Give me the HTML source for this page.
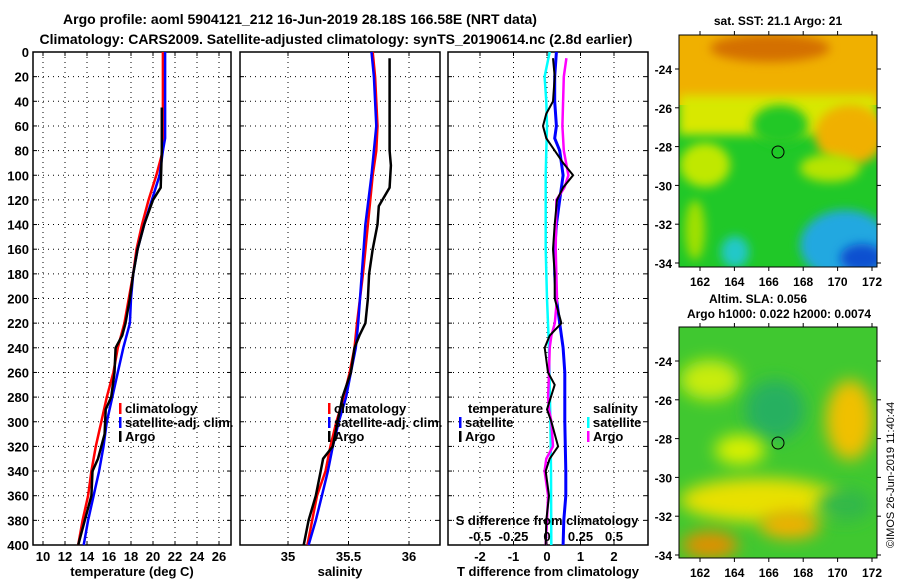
<!DOCTYPE html>
<html><head><meta charset="utf-8"><style>
body{margin:0;background:#fff}
svg{display:block;font-family:"Liberation Sans",sans-serif;font-weight:bold}
</style></head><body>
<svg id="c" width="900" height="580" viewBox="0 0 900 580">
<defs>
<filter id="bl" x="-50%" y="-50%" width="200%" height="200%"><feGaussianBlur stdDeviation="8"/></filter>
<filter id="bl2" x="-50%" y="-50%" width="200%" height="200%"><feGaussianBlur stdDeviation="5"/></filter>
<clipPath id="m1"><rect x="679" y="35" width="198" height="232"/></clipPath>
<clipPath id="m2"><rect x="679" y="327" width="198" height="231"/></clipPath>
</defs>
<text x="300" y="24" font-size="14" text-anchor="middle">Argo profile: aoml 5904121_212 16-Jun-2019 28.18S 166.58E (NRT data)</text>
<text x="336" y="44" font-size="14" text-anchor="middle">Climatology: CARS2009. Satellite-adjusted climatology: synTS_20190614.nc (2.8d earlier)</text>
<g id="maps">
<text x="778" y="25" font-size="12" text-anchor="middle">sat. SST: 21.1 Argo: 21</text>
<g clip-path="url(#m1)">
<rect x="679" y="35" width="198" height="232" fill="#20c828"/>
<rect x="679" y="35" width="198" height="70" fill="#f0b000"/>
<rect x="679" y="95" width="198" height="40" fill="#d8e800" filter="url(#bl2)"/>
<ellipse cx="780" cy="125" rx="28" ry="20" fill="#20c828" filter="url(#bl2)"/>
<ellipse cx="705" cy="165" rx="25" ry="22" fill="#c0e800" filter="url(#bl2)"/>
<ellipse cx="695" cy="230" rx="10" ry="30" fill="#a0e000" filter="url(#bl2)"/>
<ellipse cx="850" cy="135" rx="35" ry="30" fill="#f0b000" filter="url(#bl2)"/>
<ellipse cx="830" cy="168" rx="30" ry="14" fill="#b8e400" filter="url(#bl2)"/>
<ellipse cx="770" cy="48" rx="60" ry="14" fill="#d47000" filter="url(#bl2)"/>
<ellipse cx="845" cy="245" rx="45" ry="35" fill="#20a8e0" filter="url(#bl2)"/>
<ellipse cx="862" cy="258" rx="22" ry="14" fill="#1050d0" filter="url(#bl2)"/>
<ellipse cx="735" cy="252" rx="14" ry="16" fill="#20c8c8" filter="url(#bl2)"/>
<circle cx="778" cy="152" r="6" fill="none" stroke="#000"/>
</g>
<rect x="679" y="35" width="198" height="232" fill="none" stroke="#000"/>
<text x="758" y="303" font-size="12" text-anchor="middle">Altim. SLA: 0.056</text>
<text x="779" y="318" font-size="12" text-anchor="middle">Argo h1000: 0.022 h2000: 0.0074</text>
<g clip-path="url(#m2)">
<rect x="679" y="327" width="198" height="231" fill="#40c830"/>
<ellipse cx="710" cy="380" rx="30" ry="20" fill="#c8ec10" filter="url(#bl)"/>
<ellipse cx="850" cy="420" rx="24" ry="40" fill="#f0c000" filter="url(#bl)"/>
<ellipse cx="775" cy="410" rx="30" ry="30" fill="#28b060" filter="url(#bl)"/>
<ellipse cx="760" cy="500" rx="80" ry="22" fill="#e8e000" filter="url(#bl)"/>
<ellipse cx="790" cy="525" rx="30" ry="14" fill="#f0b000" filter="url(#bl)"/>
<ellipse cx="710" cy="545" rx="28" ry="14" fill="#e09000" filter="url(#bl)"/>
<ellipse cx="740" cy="450" rx="25" ry="15" fill="#d8f000" filter="url(#bl)"/>
<ellipse cx="845" cy="505" rx="28" ry="16" fill="#30b848" filter="url(#bl)"/>
<circle cx="778" cy="443" r="6" fill="none" stroke="#000"/>
</g>
<rect x="679" y="327" width="198" height="231" fill="none" stroke="#000"/>
<text transform="translate(894,548) rotate(-90)" font-size="11" font-weight="normal">©IMOS 26-Jun-2019 11:40:44</text>
</g>
</svg>
<script>
// Panel 1: temperature
const tDepClim=[0,80,100,120,140,160,180,200,220,240,260,280,300,320,340,360,380,400];
const tClim=[20.9,20.9,20.3,19.6,19.0,18.5,18.2,17.8,17.4,16.8,16.4,15.8,15.3,14.8,14.4,14.1,13.6,13.2];
const tDepSat=[0,70,80,100,120,140,160,180,200,220,240,260,280,300,320,340,360,380,400];
const tSat=[21.1,21.1,20.9,20.6,19.9,19.2,18.6,18.2,18.0,17.9,17.3,16.8,16.3,15.8,15.5,15.1,14.6,14.1,13.7];
const tDepArgo=[45,80,110,120,140,160,180,200,220,230,240,260,280,290,310,330,340,360,380,400];
const tArgo=[20.8,20.8,20.7,20.0,19.2,18.6,18.2,17.9,17.5,17.2,16.6,16.5,16.2,15.7,15.6,15.0,14.5,14.4,13.8,13.2];
const tTicks=[10,12,14,16,18,20,22,24,26];
// Panel 2: salinity
const sDepClim=[0,20,60,80,100,140,180,220,240,260,280,300,320,340,360,380,400];
const sClim=[35.70,35.72,35.74,35.73,35.70,35.66,35.62,35.57,35.55,35.51,35.46,35.40,35.35,35.31,35.24,35.20,35.16];
const sDepSat=[0,20,60,100,140,180,220,240,260,280,300,320,340,360,380,400];
const sSat=[35.69,35.71,35.73,35.69,35.64,35.61,35.58,35.56,35.52,35.48,35.42,35.37,35.33,35.28,35.23,35.17];
const sDepArgo=[5,80,92,110,125,140,160,180,200,220,230,240,260,280,300,320,330,340,360,380,400];
const sArgo=[35.84,35.84,35.85,35.84,35.75,35.74,35.70,35.67,35.66,35.64,35.59,35.55,35.52,35.45,35.41,35.37,35.29,35.27,35.23,35.17,35.13];
const sTicks=[35,35.5,36];
// Panel 3: differences
const dDepTSat=[0,20,40,60,70,80,100,120,140,160,180,200,220,240,260,300,340,360,380,400];
const dTSat=[0.28,0.23,0.23,0.28,0.23,0.38,0.48,0.38,0.28,0.23,0.23,0.28,0.38,0.48,0.53,0.53,0.56,0.56,0.50,0.48];
const dDepTArgo=[5,20,40,50,60,70,80,90,100,110,120,140,160,180,200,220,230,240,260,270,290,300,320,330,340,360,380,400];
const dTArgo=[0.18,0.23,0.18,-0.02,-0.12,-0.02,0.23,0.48,0.78,0.48,0.30,0.23,0.18,0.23,0.23,0.43,0.08,-0.07,0.03,0.23,0,0.13,0.33,0.08,-0.04,0.06,-0.02,-0.04];
const dDepSSat=[0,20,40,60,80,100,160,200,240,300,340,400];
const dSSat=[0.02,-0.018,-0.005,0,-0.005,-0.01,-0.01,0,0.015,0.025,0.03,0.032];
const dDepSArgo=[5,20,60,80,100,110,120,160,200,220,230,240,260,280,290,300,320,330,340,360,380,400];
const dSArgo=[0.145,0.125,0.115,0.125,0.16,0.13,0.07,0.065,0.075,0.058,0.033,0.02,0.015,0.008,0.015,0.033,0.045,-0.005,-0.018,0.008,0,-0.01];
const dTTicks=[-2,-1,0,1,2];
const dSTicks=[-0.5,-0.25,0,0.25,0.5];
const depthTicks=[0,20,40,60,80,100,120,140,160,180,200,220,240,260,280,300,320,340,360,380,400];

const svg=document.getElementById('c');
const NS='http://www.w3.org/2000/svg';
function mk(tag,attrs,parent){const e=document.createElementNS(NS,tag);for(const k in attrs)e.setAttribute(k,attrs[k]);(parent||svg).appendChild(e);return e;}
const Y0=52,Y1=545;
const yS=d=>Y0+(d/400)*(Y1-Y0);
function lin(d0,d1,p0,p1){return v=>p0+(v-d0)*(p1-p0)/(d1-d0);}

const panels=[
 {name:'temperature-panel',x0:33,x1:231,xs:lin(10,26,43,219),ticks:tTicks,lab:'temperature (deg C)'},
 {name:'salinity-panel',x0:240,x1:440,xs:lin(35,36,288,409),ticks:sTicks,lab:'salinity'},
 {name:'difference-panel',x0:448,x1:648,xs:lin(0,2,547,614),ticks:dTTicks,lab:'T difference from climatology'}
];
panels.forEach((p,i)=>{
 const g=mk('g',{});
 
 
 p.g=g;
 depthTicks.forEach(d=>{
  if(d>0&&d<400){const l=mk('line',{x1:p.x0,x2:p.x1,y1:yS(d),y2:yS(d),stroke:'#000','stroke-dasharray':'1,4'},g);
   }
  mk('line',{x1:p.x0,x2:p.x0+4,y1:yS(d),y2:yS(d),stroke:'#000'},g);
  mk('line',{x1:p.x1,x2:p.x1-4,y1:yS(d),y2:yS(d),stroke:'#000'},g);
  if(i===0){const t=mk('text',{x:29,y:yS(d)+5,'font-size':13,'text-anchor':'end'},g);t.textContent=d;
   }
 });
 p.ticks.forEach(v=>{
  const x=p.xs(v);
  const l=mk('line',{x1:x,x2:x,y1:Y0,y2:Y1,stroke:'#000','stroke-dasharray':'1,4'},g);
  
  mk('line',{x1:x,x2:x,y1:Y1,y2:Y1-4,stroke:'#000'},g);
  mk('line',{x1:x,x2:x,y1:Y0,y2:Y0+4,stroke:'#000'},g);
  const t=mk('text',{x:x,y:Y1+16,'font-size':13,'text-anchor':'middle'},g);t.textContent=v;
  
 });
 const fr=mk('rect',{x:p.x0,y:Y0,width:p.x1-p.x0,height:Y1-Y0,fill:'none',stroke:'#000','stroke-width':1.5},g);
 
 const t=mk('text',{x:(p.x0+p.x1)/2,y:576,'font-size':13,'text-anchor':'middle'},g);t.textContent=p.lab;
 
});
function series(p,deps,vals,col,name,w){
 const pts=deps.map((d,i)=>p.xs(vals[i]).toFixed(1)+','+yS(d).toFixed(1)).join(' ');
 const l=mk('polyline',{points:pts,fill:'none',stroke:col,'stroke-width':w||2.5},p.g);
 
}
const P=panels;
series(P[0],tDepClim,tClim,'#f00','temp-climatology-line');
series(P[0],tDepSat,tSat,'#00f','temp-satellite-line');
series(P[0],tDepArgo,tArgo,'#000','temp-argo-line');
series(P[1],sDepClim,sClim,'#f00','sal-climatology-line');
series(P[1],sDepSat,sSat,'#00f','sal-satellite-line');
series(P[1],sDepArgo,sArgo,'#000','sal-argo-line');
const sAsT=v=>v*4;
series(P[2],dDepSSat,dSSat.map(sAsT),'#0ff','sdiff-satellite-line');
series(P[2],dDepTSat,dTSat,'#00f','tdiff-satellite-line',3);
series(P[2],dDepSArgo,dSArgo.map(sAsT),'#f0f','sdiff-argo-line');
series(P[2],dDepTArgo,dTArgo,'#000','tdiff-argo-line',2);
dSTicks.forEach(v=>{
 const t=mk('text',{x:P[2].xs(v*4),y:541,'font-size':13,'text-anchor':'middle'},P[2].g);t.textContent=v;
 
});
{const t=mk('text',{x:547,y:525,'font-size':13,'text-anchor':'middle'},P[2].g);t.textContent='S difference from climatology';
 }
function legend(g,x,y,col,txt){
 mk('rect',{x:x,y:y-10,width:2.5,height:11,fill:col},g);
 const t=mk('text',{x:x+6,y:y,'font-size':13},g);t.textContent=txt;
 
}
[[0,119],[1,328]].forEach(([i,x])=>{
 legend(P[i].g,x,413,'#f00','climatology');
 legend(P[i].g,x,427,'#00f','satellite-adj. clim.');
 legend(P[i].g,x,441,'#000','Argo');
});
{const t=mk('text',{x:468,y:413,'font-size':13},P[2].g);t.textContent='temperature';
 }
legend(P[2].g,459,427,'#00f','satellite');
legend(P[2].g,459,441,'#000','Argo');
{const t=mk('text',{x:593,y:413,'font-size':13},P[2].g);t.textContent='salinity';
 }
legend(P[2].g,587,427,'#0ff','satellite');
legend(P[2].g,587,441,'#f0f','Argo');
// map axes
const mapLon=lin(162,172,700,872);
const lonTicks=[162,164,166,168,170,172];
const latTicks=[-24,-26,-28,-30,-32,-34];
[[lin(-24,-34,69,263),35,267],[lin(-24,-34,361,555),327,558]].forEach(([ly,top,bot])=>{
 lonTicks.forEach(v=>{
  const x=mapLon(v);
  mk('line',{x1:x,x2:x,y1:bot,y2:bot+4,stroke:'#000'});
  mk('line',{x1:x,x2:x,y1:top,y2:top-4,stroke:'#000'});
  const t=mk('text',{x:x,y:bot+19,'font-size':12,'text-anchor':'middle'});t.textContent=v;
  
 });
 latTicks.forEach(v=>{
  const y=ly(v);
  mk('line',{x1:675,x2:679,y1:y,y2:y,stroke:'#000'});
  mk('line',{x1:877,x2:881,y1:y,y2:y,stroke:'#000'});
  const t=mk('text',{x:672,y:y+5,'font-size':12,'text-anchor':'end'});t.textContent=v;
  
 });
});
</script>
</body></html>
